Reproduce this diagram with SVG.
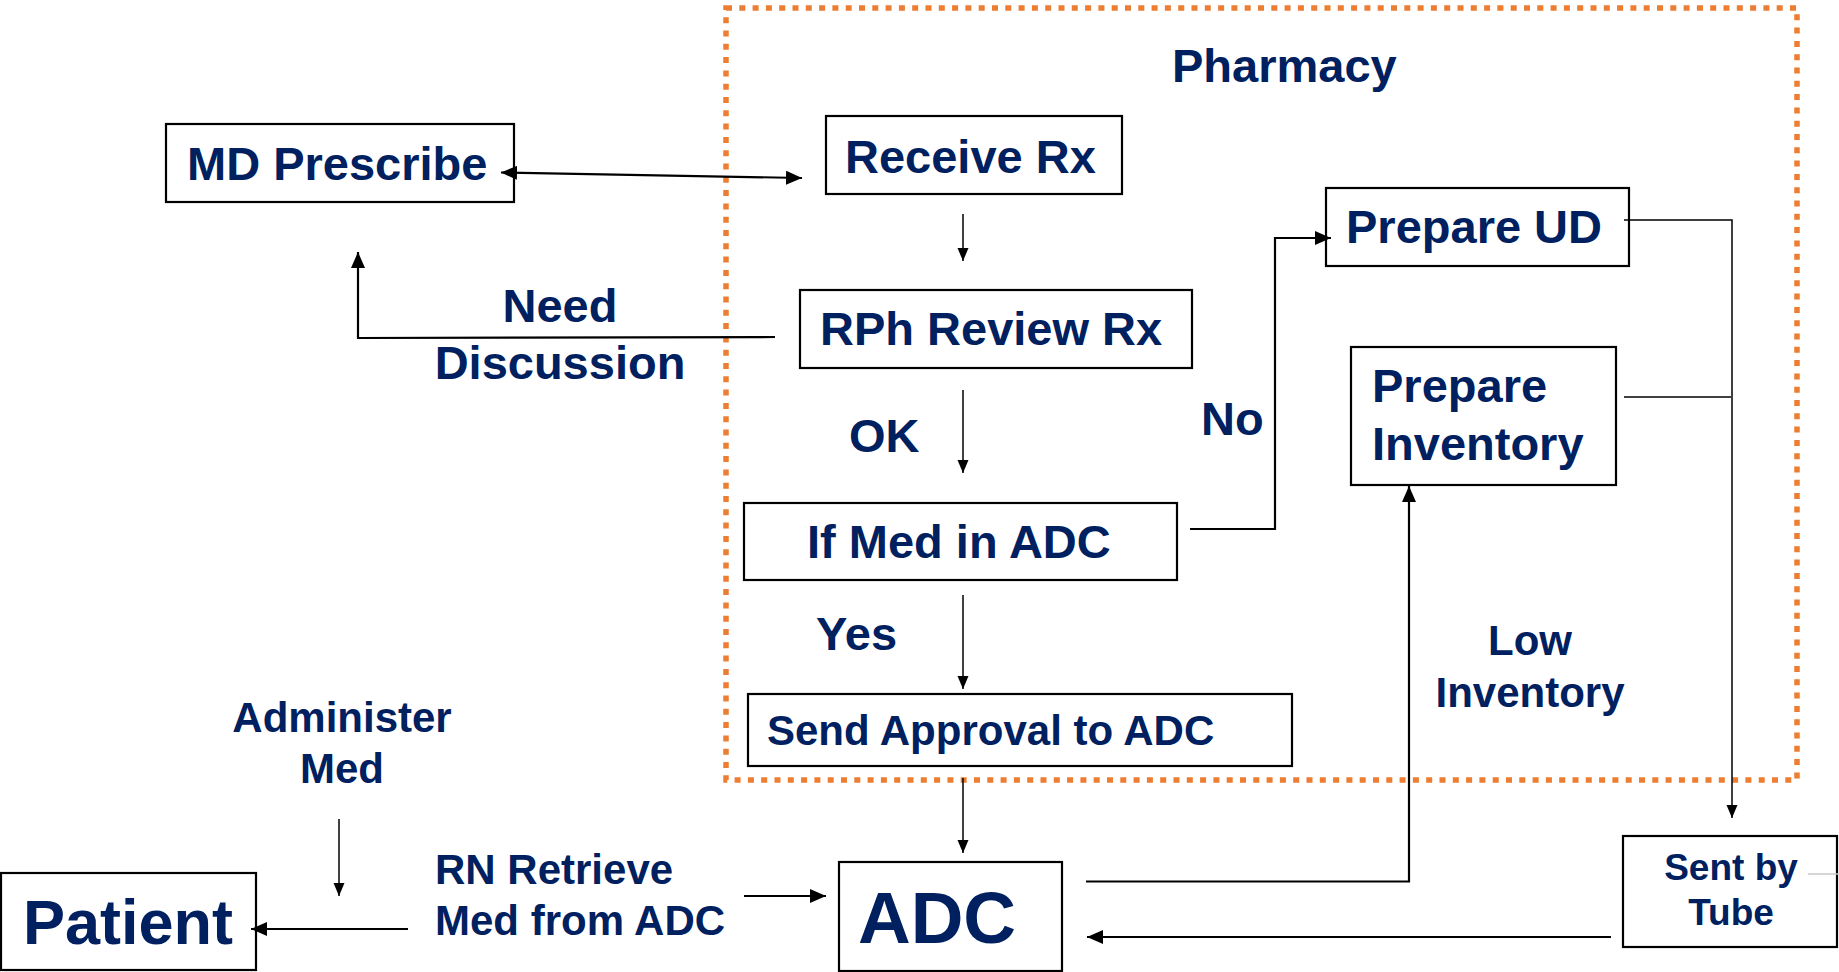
<svg xmlns="http://www.w3.org/2000/svg" width="1839" height="972" viewBox="0 0 1839 972">
  <style>
    .box { fill: #ffffff; stroke: #000000; stroke-width: 2.2; }
    .t { font-family: "Liberation Sans", Arial, sans-serif; font-weight: bold; fill: #002060; }
    .f47 { font-size: 47px; }
    .f42 { font-size: 42px; }
    .line { fill: none; stroke: #000000; stroke-width: 2.2; }
    .thin { fill: none; stroke: #000000; stroke-width: 1.5; }
  </style>
  <defs>
    <marker id="ah" markerUnits="userSpaceOnUse" markerWidth="17" markerHeight="14" refX="16" refY="7" orient="auto-start-reverse">
      <path d="M0,0 L16,7 L0,14 z" fill="#000000"/>
    </marker>
    <marker id="ahs" markerUnits="userSpaceOnUse" markerWidth="13" markerHeight="12" refX="13" refY="5.5" orient="auto">
      <path d="M0,0 L13,5.5 L0,11 z" fill="#000000"/>
    </marker>
  </defs>

  <rect width="1839" height="972" fill="#ffffff"/>

  <!-- Pharmacy boundary -->
  <g id="pharmacy">
    <rect x="726" y="8" width="1071" height="772" fill="none" stroke="#ED7D31" stroke-width="5.5" stroke-dasharray="6 7.3"/>
    <text class="t f47" x="1172" y="82">Pharmacy</text>
  </g>

  <!-- Nodes -->
  <g id="md-prescribe">
    <rect class="box" x="166" y="124" width="348" height="78"/>
    <text class="t f47" x="187" y="180">MD Prescribe</text>
  </g>
  <g id="receive-rx">
    <rect class="box" x="826" y="116" width="296" height="78"/>
    <text class="t f47" x="845" y="173">Receive Rx</text>
  </g>
  <g id="rph-review">
    <rect class="box" x="800" y="290" width="392" height="78"/>
    <text class="t f47" x="820" y="345">RPh Review Rx</text>
  </g>
  <g id="if-med-in-adc">
    <rect class="box" x="744" y="503" width="433" height="77"/>
    <text class="t f47" x="807" y="558">If Med in ADC</text>
  </g>
  <g id="send-approval">
    <rect class="box" x="748" y="694" width="544" height="72"/>
    <text class="t f42" x="767" y="745">Send Approval to ADC</text>
  </g>
  <g id="prepare-ud">
    <rect class="box" x="1326" y="188" width="303" height="78"/>
    <text class="t f47" x="1346" y="243">Prepare UD</text>
  </g>
  <g id="prepare-inventory">
    <rect class="box" x="1351" y="347" width="265" height="138"/>
    <text class="t f47" x="1372" y="402">Prepare</text>
    <text class="t f47" x="1372" y="460">Inventory</text>
  </g>
  <g id="adc">
    <rect class="box" x="839" y="862" width="223" height="109"/>
    <text class="t" x="937" y="943" font-size="73" text-anchor="middle">ADC</text>
  </g>
  <g id="sent-by-tube">
    <rect class="box" x="1623" y="836" width="214" height="111"/>
    <text class="t" x="1731" y="880" font-size="37" text-anchor="middle">Sent by</text>
    <text class="t" x="1731" y="925" font-size="37" text-anchor="middle">Tube</text>
  </g>
  <g id="patient">
    <rect class="box" x="1" y="873" width="255" height="97"/>
    <text class="t" x="128" y="944" font-size="63" text-anchor="middle">Patient</text>
  </g>

  <!-- Connectors -->
  <g id="connectors">
    <path class="line" d="M501,172.5 L802,178" marker-start="url(#ah)" marker-end="url(#ah)"/>
    <path class="thin" d="M963,214 V261" marker-end="url(#ahs)"/>
    <path class="line" d="M775,337 L358,338 V252" marker-end="url(#ah)"/>
    <path class="thin" d="M963,390 V473" marker-end="url(#ahs)"/>
    <path class="line" d="M1190,529 H1275 V238 H1331" marker-end="url(#ah)"/>
    <path class="thin" d="M1624,220 H1732 V818" marker-end="url(#ahs)"/>
    <path class="thin" d="M1624,397 H1731"/>
    <path class="thin" d="M963,595 V689" marker-end="url(#ahs)"/>
    <path class="thin" d="M963,778 V853" marker-end="url(#ahs)"/>
    <path class="line" d="M1086,881.5 H1409 V486" marker-end="url(#ah)"/>
    <path class="line" d="M1611,937 H1087" marker-end="url(#ah)"/>
    <path class="line" d="M744,896 H826" marker-end="url(#ah)"/>
    <path class="line" d="M408,929 H251" marker-end="url(#ah)"/>
    <path class="thin" d="M339,819 V896" marker-end="url(#ahs)"/>
    <path d="M1808,874 H1839" fill="none" stroke="#c8c8c8" stroke-width="1.5"/>
  </g>

  <!-- Connector labels -->
  <g id="labels">
    <text class="t f47" x="560" y="322" text-anchor="middle">Need</text>
    <text class="t f47" x="560" y="379" text-anchor="middle">Discussion</text>
    <text class="t f47" x="849" y="452">OK</text>
    <text class="t f47" x="1201" y="435">No</text>
    <text class="t f47" x="816" y="650">Yes</text>
    <text class="t f42" x="1530" y="655" text-anchor="middle">Low</text>
    <text class="t f42" x="1530" y="707" text-anchor="middle">Inventory</text>
    <text class="t f42" x="342" y="732" text-anchor="middle">Administer</text>
    <text class="t f42" x="342" y="783" text-anchor="middle">Med</text>
    <text class="t f42" x="435" y="884">RN Retrieve</text>
    <text class="t f42" x="435" y="935">Med from ADC</text>
  </g>
</svg>
